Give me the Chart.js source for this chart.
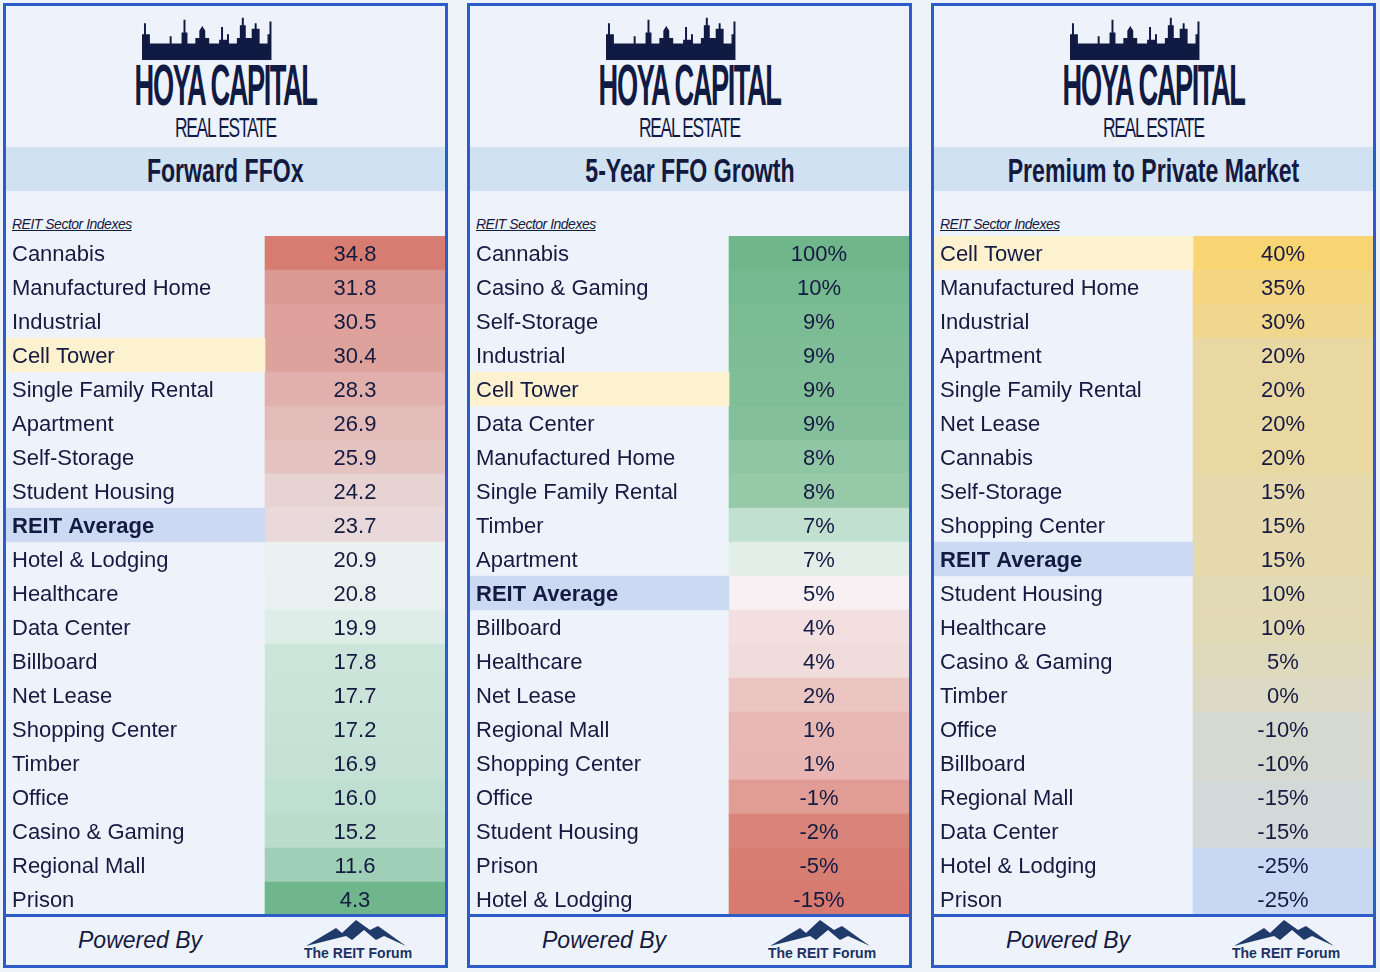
<!DOCTYPE html>
<html><head><meta charset="utf-8">
<script src="https://cdn.jsdelivr.net/npm/chart.js@4"></script>
<style>
body{margin:0;background:#eef2f9;width:1380px;height:972px;position:relative;font-family:"Liberation Sans",Arial,sans-serif;color:#151a40}
.panel{position:absolute;top:3px;width:439px;height:910px;border:3px solid #2d5cc8;background:#eef3fb}
.logo{position:absolute;top:6px;left:0;width:100%;height:135px;text-align:center}
.hoya{position:absolute;top:44px;width:100%;text-align:center}
.hoya span{display:inline-block;font-family:"Liberation Sans",sans-serif;font-weight:bold;font-size:58px;letter-spacing:-3px;transform:scaleX(0.47);color:#111a42;line-height:58px}
.re{position:absolute;top:100px;width:100%;text-align:center}
.re span{display:inline-block;font-size:28px;letter-spacing:-2px;transform:scaleX(0.62);color:#111a42}
.title{position:absolute;top:141px;left:0;width:100%;height:44px;background:#d0e1f1;text-align:center;line-height:46px}
.title span{display:inline-block;font-weight:bold;font-size:34px;color:#14193f;transform:scaleX(0.68)}
.sub{position:absolute;top:210px;left:6px;font-style:italic;font-size:14px;text-decoration:underline;letter-spacing:-0.5px}
.cv{position:absolute;top:230px;left:0;width:439px;height:680px}
.foot{position:absolute;top:914px;width:439px;height:48px;border:3px solid #2d5cc8;background:#eef3fb}
.pb{position:absolute;left:72px;top:10px;font-style:italic;font-size:23px}
.trf{position:absolute;left:298px;top:28px;font-weight:bold;font-size:14px;color:#1c3263}
</style></head><body>
<div id="root"></div>
<script>
const labels1=["Cannabis","Manufactured Home","Industrial","Cell Tower","Single Family Rental","Apartment","Self-Storage","Student Housing","REIT Average","Hotel & Lodging","Healthcare","Data Center","Billboard","Net Lease","Shopping Center","Timber","Office","Casino & Gaming","Regional Mall","Prison"];
const values1=[34.8,31.8,30.5,30.4,28.3,26.9,25.9,24.2,23.7,20.9,20.8,19.9,17.8,17.7,17.2,16.9,16.0,15.2,11.6,4.3];
const labels2=["Cannabis","Casino & Gaming","Self-Storage","Industrial","Cell Tower","Data Center","Manufactured Home","Single Family Rental","Timber","Apartment","REIT Average","Billboard","Healthcare","Net Lease","Regional Mall","Shopping Center","Office","Student Housing","Prison","Hotel & Lodging"];
const values2=[100,10,9,9,9,9,8,8,7,7,5,4,4,2,1,1,-1,-2,-5,-15];
const labels3=["Cell Tower","Manufactured Home","Industrial","Apartment","Single Family Rental","Net Lease","Cannabis","Self-Storage","Shopping Center","REIT Average","Student Housing","Healthcare","Casino & Gaming","Timber","Office","Billboard","Regional Mall","Data Center","Hotel & Lodging","Prison"];
const values3=[40,35,30,20,20,20,20,15,15,15,10,10,5,0,-10,-10,-15,-15,-25,-25];
const titles=["Forward FFOx","5-Year FFO Growth","Premium to Private Market"];

const colors1=["#d77c71","#dc9892","#dea19b","#dea29c","#e1b0ac","#e3bbb8","#e5c3c1","#e8d3d3","#e9d9da","#e9f1f1","#e8f1f0","#dfede8","#cce5da","#cbe4d9","#c7e2d6","#c5e1d5","#bfdfd0","#b9dccb","#9fd0b7","#6fb68c"];
const colors2=["#6fb68b","#75b990","#7cbc95","#7ebd96","#80be98","#83bf9a","#8fc6a4","#95c9a8","#c1e0cf","#e2efe9","#f7f1f3","#f3dfdf","#f1dcdc","#ebc5c2","#e8b8b5","#e8b6b3","#e09c95","#d9847a","#d77e73","#d77b70"];
const colors3=["#f9d472","#f4d682","#f0d78d","#e9d8a2","#e9d8a2","#e9d8a2","#e9d8a2","#e5d9ad","#e5d9ad","#e5d9ad","#e2d9b5","#e2d9b5","#dfd9bd","#dcd9c4","#d6d9cf","#d6d9cf","#d2d9d9","#d2d9d9","#c8d8f2","#c8d8f2"];
const fmt=[v=>v.toFixed(1),v=>v+"%",v=>v+"%"];
const sets=[[labels1,values1,colors1],[labels2,values2,colors2],[labels3,values3,colors3]];
const lefts=[3,467,931];
const split=0.59;

const skyline='<svg width="168" height="44" viewBox="0 0 170 48" preserveAspectRatio="none"><path fill="#111a42" d="M0 48V20h2V8h2v12h4V30h20V22h2v8h10V18h2V4h2v14h2V30h8v-6h4v-8l3-5 3 5v8h4v6h10V26h2v-14h2v14h4V20h2v10h8V24h3V10h2V2h2v8h2v14h6V14h3v-6h2v6h3v16h8V20h2V6h2v42z"/></svg>';

sets.forEach((s,i)=>{
  const p=document.createElement('div');p.className='panel';p.style.left=lefts[i]+'px';
  p.innerHTML='<div class="logo"><div style="position:absolute;top:4px;left:0;width:100%;text-align:center">'+skyline+'</div><div class="hoya"><span>HOYA CAPITAL</span></div><div class="re"><span>REAL ESTATE</span></div></div><div class="title"><span>'+titles[i]+'</span></div><div class="sub">REIT Sector Indexes</div><div class="cv"><canvas id="c'+i+'"></canvas></div>';
  document.getElementById('root').appendChild(p);
  const f=document.createElement('div');f.className='foot';f.style.left=lefts[i]+'px';
  f.innerHTML='<svg style="position:absolute;left:300px;top:3px" width="100" height="26" viewBox="0 0 100 26"><path fill="#1f3a6b" d="M0 26L30 8l6 5 14-13 14 10 8-4 28 20-22-10-8 4-12-10-12 10-6-4z"/></svg><div class="pb">Powered By</div><div class="trf">The REIT Forum</div>';
  document.getElementById('root').appendChild(f);
  const [labs,vals,cols]=s;
  const hl=labs.map(l=>l==="Cell Tower"?"#fdf2cf":l==="REIT Average"?"#cbd9f3":"rgba(0,0,0,0)");
  new Chart(document.getElementById('c'+i),{
    type:'bar',
    data:{labels:labs,datasets:[
      {data:labs.map(()=>[0,split]),backgroundColor:hl,barPercentage:1,categoryPercentage:1,grouped:false},
      {data:vals.map(()=>[split,1]),backgroundColor:cols,barPercentage:1,categoryPercentage:1,grouped:false}
    ]},
    options:{indexAxis:'y',responsive:true,maintainAspectRatio:false,animation:false,
      layout:{padding:0},
      plugins:{legend:{display:false},tooltip:{enabled:false}},
      scales:{x:{display:false,min:0,max:1},y:{display:false}}},
    plugins:[{id:'txt',afterDatasetsDraw(ch){
      const c=ch.ctx,y=ch.scales.y,x=ch.scales.x;
      c.save();c.fillStyle='#151a40';c.textBaseline='middle';
      labs.forEach((l,k)=>{
        const py=y.getPixelForValue(k)+2;
        c.font=(l==="REIT Average"?"bold ":"")+'22px "Liberation Sans", Arial';
        c.textAlign='left';c.fillText(l,x.getPixelForValue(0)+6,py);
        c.font='22px "Liberation Sans", Arial';c.textAlign='center';
        c.fillText(fmt[i](vals[k]),x.getPixelForValue((split+1)/2),py);
      });
      c.restore();
    }}]
  });
});
</script></body></html>
